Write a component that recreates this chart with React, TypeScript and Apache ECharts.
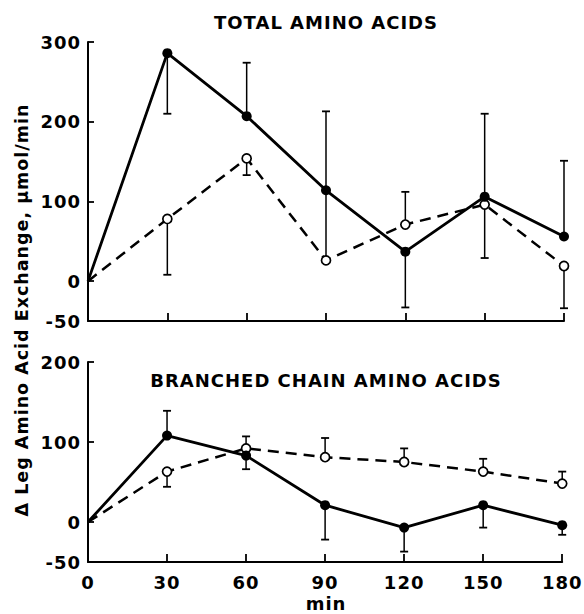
import { useEffect, useRef } from "react";
import * as echarts from "echarts";

const minutes = [0, 30, 60, 90, 120, 150, 180];
const totalTicks = [-50, 0, 100, 200, 300];
const branchedTicks = [-50, 0, 100, 200];

const totalSolid = [0, 286, 207, 114, 37, 106, 56];
const totalOpen = [0, 78, 154, 26, 71, 96, 19];
const totalSolidErrEnd = [null, 210, 274, 213, -33, 210, 151];
const totalOpenErrEnd = [null, 8, 133, 112, 112, 29, -34];

const branchedSolid = [0, 108, 83, 21, -7, 21, -4];
const branchedOpen = [0, 63, 92, 81, 75, 63, 48];
const branchedSolidErrEnd = [null, 139, 66, -22, -37, -7, -16];
const branchedOpenErrEnd = [null, 44, 107, 105, 92, 79, 63];

const titleTop = "TOTAL AMINO ACIDS";
const titleBottom = "BRANCHED CHAIN AMINO ACIDS";
const yName = "Δ Leg Amino Acid Exchange, μmol/min";
const xName = "min";

const FONT = "DejaVu Sans";

function lineData(vals: number[]) {
  return minutes.map((t, i) =>
    i === 0 ? { value: [t, vals[i]], symbol: "none" } : [t, vals[i]]
  );
}

function errData(vals: number[], ends: (number | null)[]) {
  const out: number[][] = [];
  minutes.forEach((t, i) => {
    const e = ends[i];
    if (e !== null && e !== undefined) out.push([t, vals[i], e]);
  });
  return out;
}

function renderErr(params: any, api: any) {
  const x = api.value(0);
  const m = api.value(1);
  const e = api.value(2);
  const p0 = api.coord([x, m]);
  const p1 = api.coord([x, e]);
  return {
    type: "group",
    children: [
      {
        type: "line",
        shape: { x1: p0[0], y1: p0[1], x2: p1[0], y2: p1[1] },
        style: { stroke: "#000", lineWidth: 1.5 },
      },
      {
        type: "line",
        shape: { x1: p1[0] - 4, y1: p1[1], x2: p1[0] + 4, y2: p1[1] },
        style: { stroke: "#000", lineWidth: 1.8 },
      },
    ],
  };
}

const labelStyle = {
  fontFamily: FONT,
  fontWeight: "bold" as const,
  fontSize: 18,
  color: "#000",
};

function xAxis(gridIndex: number, showLabels: boolean) {
  return {
    type: "value",
    gridIndex,
    min: 0,
    max: 180,
    interval: 30,
    axisLine: { show: true, onZero: false, lineStyle: { color: "#000", width: 2 } },
    axisTick: { show: true, inside: true, length: 8, lineStyle: { color: "#000", width: 1.8 } },
    axisLabel: { show: showLabels, margin: 11, ...labelStyle },
    splitLine: { show: false },
  };
}

function yAxis(gridIndex: number, min: number, max: number, ticks: number[]) {
  return {
    type: "value",
    gridIndex,
    min,
    max,
    axisLine: { show: true, onZero: false, lineStyle: { color: "#000", width: 2 } },
    axisTick: {
      show: true,
      inside: true,
      length: 6,
      customValues: ticks,
      lineStyle: { color: "#000", width: 1.8 },
    },
    axisLabel: { show: true, margin: 7, customValues: ticks, ...labelStyle },
    splitLine: { show: false },
  };
}

function seriesFor(idx: number, solid: number[], open: number[], sEnd: (number | null)[], oEnd: (number | null)[]) {
  return [
    {
      type: "custom",
      xAxisIndex: idx,
      yAxisIndex: idx,
      renderItem: renderErr,
      data: errData(solid, sEnd),
      encode: { x: 0, y: [1, 2] },
      z: 1,
    },
    {
      type: "custom",
      xAxisIndex: idx,
      yAxisIndex: idx,
      renderItem: renderErr,
      data: errData(open, oEnd),
      encode: { x: 0, y: [1, 2] },
      z: 1,
    },
    {
      type: "line",
      xAxisIndex: idx,
      yAxisIndex: idx,
      data: lineData(open),
      symbol: "circle",
      symbolSize: 9,
      showSymbol: true,
      itemStyle: { color: "#fff", borderColor: "#000", borderWidth: 1.7 },
      lineStyle: { color: "#000", width: 2.5, type: [11, 7] },
      z: 3,
    },
    {
      type: "line",
      xAxisIndex: idx,
      yAxisIndex: idx,
      data: lineData(solid),
      symbol: "circle",
      symbolSize: 10,
      showSymbol: true,
      itemStyle: { color: "#000" },
      lineStyle: { color: "#000", width: 2.8 },
      z: 4,
    },
  ];
}

export default function App() {
  const ref = useRef<HTMLDivElement>(null);
  useEffect(() => {
    if (!ref.current) return;
    const chart = echarts.init(ref.current, null, { renderer: "svg" });
    chart.setOption({
      animation: false,
      backgroundColor: "#fff",
      grid: [
        { left: 88, width: 476, top: 42, height: 279 },
        { left: 88, width: 476, top: 362, height: 200 },
      ],
      xAxis: [xAxis(0, false), xAxis(1, true)],
      yAxis: [yAxis(0, -50, 300, totalTicks), yAxis(1, -50, 200, branchedTicks)],
      series: [
        ...seriesFor(0, totalSolid, totalOpen, totalSolidErrEnd, totalOpenErrEnd),
        ...seriesFor(1, branchedSolid, branchedOpen, branchedSolidErrEnd, branchedOpenErrEnd),
      ],
      graphic: [
        {
          type: "text",
          x: 326,
          y: 22,
          style: {
            text: titleTop,
            fontFamily: FONT,
            fontWeight: "bold",
            fontSize: 18,
            fill: "#000",
            textAlign: "center",
            textVerticalAlign: "middle",
          },
        },
        {
          type: "text",
          x: 326,
          y: 380,
          style: {
            text: titleBottom,
            fontFamily: FONT,
            fontWeight: "bold",
            fontSize: 18,
            fill: "#000",
            textAlign: "center",
            textVerticalAlign: "middle",
          },
        },
        {
          type: "text",
          x: 22,
          y: 310,
          rotation: Math.PI / 2,
          style: {
            text: yName,
            fontFamily: FONT,
            fontWeight: "bold",
            fontSize: 17.5,
            fill: "#000",
            textAlign: "center",
            textVerticalAlign: "middle",
          },
        },
        {
          type: "text",
          x: 326,
          y: 603,
          style: {
            text: xName,
            fontFamily: FONT,
            fontWeight: "bold",
            fontSize: 18,
            fill: "#000",
            textAlign: "center",
            textVerticalAlign: "middle",
          },
        },
      ],
    });
    return () => chart.dispose();
  }, []);
  return (
    <>
      <style>{`.resk svg text{letter-spacing:1px}`}</style>
      <div
        ref={ref}
        className="resk"
        style={{ position: "fixed", left: 0, top: 0, width: 584, height: 614 }}
      />
    </>
  );
}
